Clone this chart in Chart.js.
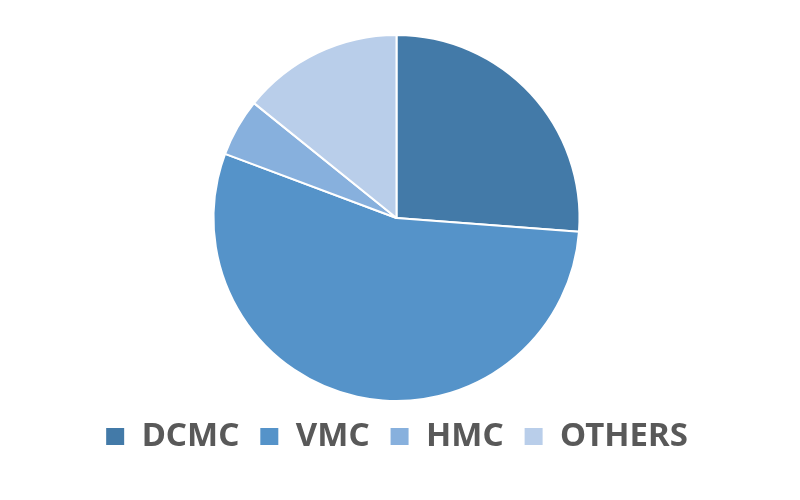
<!DOCTYPE html>
<html>
<head>
<meta charset="utf-8">
<script src="https://cdn.jsdelivr.net/npm/chart.js@4"></script>
<style>
  html, body { margin: 0; padding: 0; background: #ffffff; }
  #wrap { width: 800px; height: 500px; position: relative; }
</style>
</head>
<body>
<div id="wrap"><canvas id="pieChart"></canvas></div>
<script>
const categories = ["DCMC", "VMC", "HMC", "OTHERS"];
const shares = [26.2, 54.5, 5.1, 14.2];
const sliceColors = ["#437AA8", "#5593C9", "#87B0DD", "#B9CEEA"];

document.addEventListener("DOMContentLoaded", () => {
  const ctx = document.getElementById("pieChart");
  new Chart(ctx, {
    type: "pie",
    data: {
      labels: categories,
      datasets: [{
        data: shares,
        backgroundColor: sliceColors,
        borderColor: "#ffffff",
        borderWidth: 2,
        radius: 183
      }]
    },
    options: {
      responsive: true,
      maintainAspectRatio: false,
      animation: false,
      layout: { padding: { top: 36, bottom: 37, left: 0, right: 7 } },
      plugins: {
        tooltip: { enabled: false },
        legend: {
          position: "bottom",
          labels: {
            color: "#595959",
            font: { family: "'Noto Sans', sans-serif", size: 33, weight: "bold" },
            boxWidth: 20,
            boxHeight: 19,
            padding: 20
          }
        }
      }
    }
  });
});
</script>
</body>
</html>
